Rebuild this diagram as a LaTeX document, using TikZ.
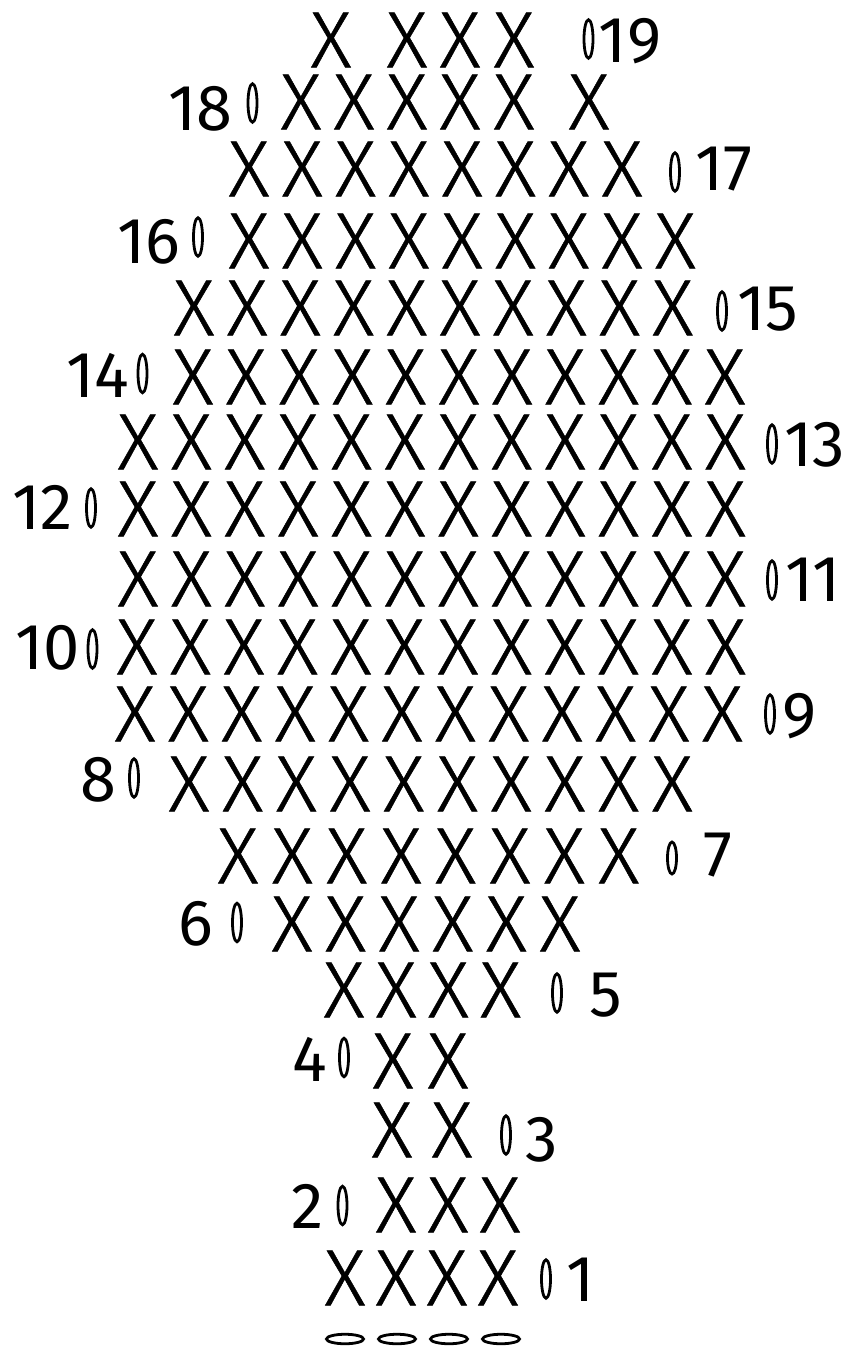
\documentclass[tikz,border=0pt]{standalone}
\usepackage{fontspec}
\usepackage{graphicx}
\usetikzlibrary{shapes.geometric}
\newfontfamily\xf{Fira Sans Light}[FakeBold=0.6]
\newfontfamily\lf{Fira Sans}
\newcommand\sx{\scalebox{1.0}[1]{X}}
\newcommand\xrow[5]{\foreach \k in {1,...,#5} {\node[st] (x#1-\k) at ({#3+#4*(\k-1)},#2) {\sx};}}
\begin{document}
\begin{tikzpicture}[x=1pt,y=-1pt,
  st/.style={inner sep=0pt, font=\xf\fontsize{80}{80}\selectfont},
  lb/.style={inner sep=0pt, font=\lf\fontsize{65}{65}\selectfont},
  ring/.style={ellipse, draw, line width=2.8pt, inner sep=0pt, minimum width=9pt, minimum height=38.5pt},
  chain/.style={ellipse, draw, line width=2.8pt, inner sep=0pt, minimum width=37pt, minimum height=9.5pt}]
\useasboundingbox (0,0) rectangle (852,1350);
% row 19
\foreach \k/\xx in {1/331,2/407,3/460,4/514} {\node[st] (x19-\k) at (\xx,40) {\sx};}
% row 18
\foreach \k/\xx in {1/301,2/354,3/407,4/460,5/514,6/589} {\node[st] (x18-\k) at (\xx,102) {\sx};}
\xrow{17}{169}{249}{53.3}{8}
\xrow{16}{241}{249}{53.3}{9}
\xrow{15}{308}{194}{53.2}{10}
\xrow{14}{377}{193}{53.2}{11}
\xrow{13}{442}{138}{53.4}{12}
\xrow{12}{509}{138}{53.4}{12}
\xrow{11}{579}{138}{53.4}{12}
\xrow{10}{647}{137}{53.5}{12}
\xrow{9}{714}{135}{53.4}{12}
\xrow{8}{784}{189}{53.7}{10}
\xrow{7}{856}{238}{54.4}{8}
\xrow{6}{924}{292}{53.6}{6}
\xrow{5}{990}{344}{52.2}{4}
\foreach \k/\xx in {1/393,2/448} {\node[st] (x4-\k) at (\xx,1061) {\sx};}
\foreach \k/\xx in {1/392,2/452} {\node[st] (x3-\k) at (\xx,1130) {\sx};}
\xrow{2}{1205}{396}{52}{3}
\xrow{1}{1278}{345}{51}{4}
% labels
\foreach \n/\xx/\yy in {19/630/41.5,18/200/108.5,17/723.5/169.5,16/149/241.5,15/767.5/309.5,
  14/97.5/375,13/815/445,12/42.5/507.5,11/813/580,10/48/648,9/800/716,8/98/780,7/718/855,
  6/196/924,5/606/995,4/310/1059,3/542/1140,2/308/1206,1/581/1280}
  {\node[lb] (l\n) at (\xx,\yy) {\n};}
% vertical chain ovals
\foreach \n/\xx/\yy in {19/588.5/39,18/252.5/103,17/675/172,16/198/237,15/722/311,
  14/142.5/373.5,13/772/444,12/91/508,11/772/580,10/92.5/649,9/770/714,8/134/778,
  6/237/922.5,5/557/993,4/344/1057.5,3/506/1135,2/342.5/1205.5,1/546/1279}
  {\node[ring] (o\n) at (\xx,\yy) {};}
\node[ring, minimum height=32pt] (o7) at (672,858) {};
% foundation chains
\foreach \k/\xx in {1/345,2/397,3/449,4/501} {\node[chain] (c\k) at (\xx,1339) {};}
\end{tikzpicture}
\end{document}
